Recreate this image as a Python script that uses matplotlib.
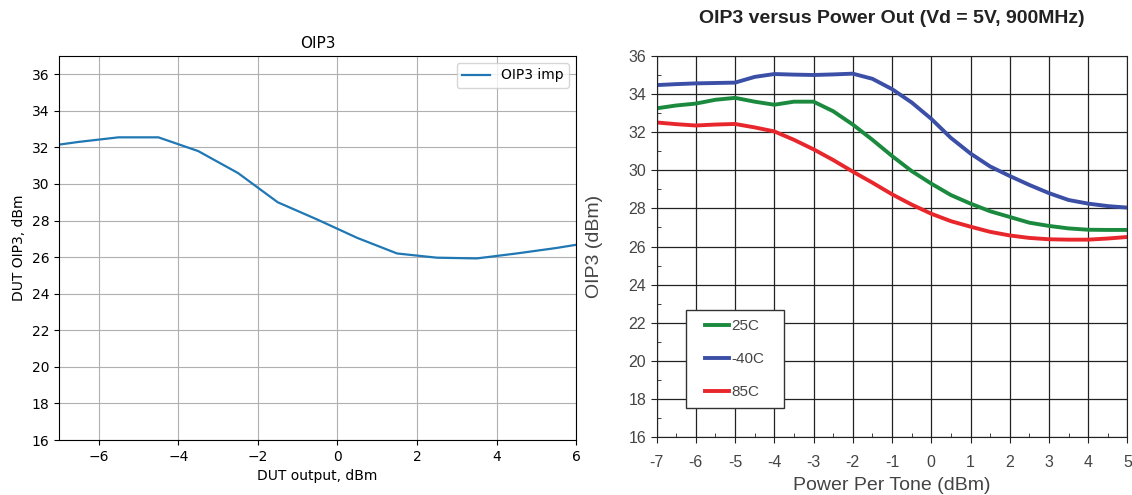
import matplotlib
matplotlib.use("Agg")
import matplotlib.pyplot as plt
from matplotlib.patches import Rectangle
from matplotlib.ticker import MultipleLocator

# Left chart: simulated OIP3
sim_x = [-7.5, -6.5, -5.5, -4.5, -3.5, -2.5, -1.5, -0.5, 0.5, 1.5, 2.5, 3.5, 4.5, 5.5, 6.5]
sim_oip3 = [32.0, 32.3, 32.55, 32.55, 31.8, 30.6, 29.0, 28.05, 27.05, 26.2, 25.97, 25.93, 26.2, 26.5, 26.85]

# Right chart: datasheet OIP3 vs power per tone
pout = [-7, -6.5, -6, -5.5, -5, -4.5, -4, -3.5, -3, -2.5, -2, -1.5, -1, -0.5,
        0, 0.5, 1, 1.5, 2, 2.5, 3, 3.5, 4, 4.5, 5]
oip3_25c = [33.25, 33.4, 33.5, 33.7, 33.8, 33.6, 33.44, 33.6, 33.6, 33.1, 32.4, 31.6, 30.75,
            29.96, 29.3, 28.7, 28.25, 27.85, 27.55, 27.25, 27.08, 26.95, 26.88, 26.87, 26.87]
oip3_m40c = [34.47, 34.52, 34.56, 34.58, 34.6, 34.9, 35.05, 35.02, 35.0, 35.03, 35.07, 34.8, 34.26,
             33.56, 32.7, 31.7, 30.88, 30.2, 29.7, 29.23, 28.8, 28.44, 28.25, 28.12, 28.04]
oip3_85c = [32.51, 32.42, 32.35, 32.4, 32.43, 32.25, 32.04, 31.6, 31.1, 30.54, 29.93, 29.35, 28.74,
            28.2, 27.72, 27.33, 27.04, 26.77, 26.58, 26.45, 26.38, 26.36, 26.36, 26.42, 26.5]

fig = plt.figure(figsize=(11.32, 4.95), dpi=100)

# ---- left panel ----
ax1 = fig.add_axes([0.052, 0.111, 0.457, 0.776])
ax1.plot(sim_x, sim_oip3, color="#1f77b4", lw=1.6, label="OIP3 imp")
ax1.set_xlim(-7, 6)
ax1.set_ylim(16, 37)
ax1.set_yticks(range(16, 37, 2))
ax1.grid(True, color="#b0b0b0", lw=0.8)
ax1.set_title("OIP3", fontsize=11)
ax1.set_xlabel("DUT output, dBm", fontsize=10)
ax1.set_ylabel("DUT OIP3, dBm", fontsize=10)
ax1.tick_params(labelsize=10)
ax1.legend(loc="upper right", fontsize=10)

# ---- right panel ----
font = "Liberation Sans"
gray = "#444444"
ax2 = fig.add_axes([0.580, 0.117, 0.416, 0.770])
ax2.plot(pout, oip3_25c, color="#1b8a3f", lw=2.8, label="25C", solid_joinstyle="round")
ax2.plot(pout, oip3_m40c, color="#3b4fa6", lw=2.8, label="-40C", solid_joinstyle="round")
ax2.plot(pout, oip3_85c, color="#e8272c", lw=2.8, label="85C", solid_joinstyle="round")
ax2.set_xlim(-7, 5)
ax2.set_ylim(16, 36)
ax2.xaxis.set_major_locator(MultipleLocator(1))
ax2.yaxis.set_major_locator(MultipleLocator(2))
ax2.xaxis.set_minor_locator(MultipleLocator(0.5))
ax2.yaxis.set_minor_locator(MultipleLocator(1))
ax2.grid(True, which="major", color="#222222", lw=0.9)
ax2.tick_params(which="major", direction="out", length=4, color="#222222",
                labelsize=11.5, labelcolor=gray)
ax2.tick_params(axis="x", which="major", pad=9)
ax2.tick_params(which="minor", direction="in", length=3, color="#222222")
ax2.set_xticks(range(-7, 6))
ax2.set_xticklabels([str(v) for v in range(-7, 6)], fontfamily=font)
ax2.set_yticks(range(16, 37, 2))
ax2.set_yticklabels([str(v) for v in range(16, 37, 2)], fontfamily=font)
for sp in ax2.spines.values():
    sp.set_color("#222222")
ax2.set_title("OIP3 versus Power Out (Vd = 5V, 900MHz)", fontsize=14,
              fontweight="bold", fontfamily=font, color="#222222", pad=24)
ax2.set_xlabel("Power Per Tone (dBm)", fontsize=14, fontfamily=font, color=gray, labelpad=5)
ax2.set_ylabel("OIP3 (dBm)", fontsize=14, fontfamily=font, color=gray, labelpad=18)

# legend box drawn separately so the side padding can be wider than the top/bottom
ax2.add_patch(Rectangle((0.062, 0.076), 0.208, 0.257, transform=ax2.transAxes,
                        facecolor="white", edgecolor="#333333", lw=1.0, zorder=4))
leg = ax2.legend(loc="center", bbox_to_anchor=(0.166, 0.2045), frameon=False,
                 handlelength=1.6, handletextpad=0.15, labelspacing=1.25,
                 borderpad=0, borderaxespad=0, prop={"family": font, "size": 11})
leg.set_zorder(5)
for t in leg.get_texts():
    t.set_color(gray)

fig.savefig("out.png", dpi=100)
